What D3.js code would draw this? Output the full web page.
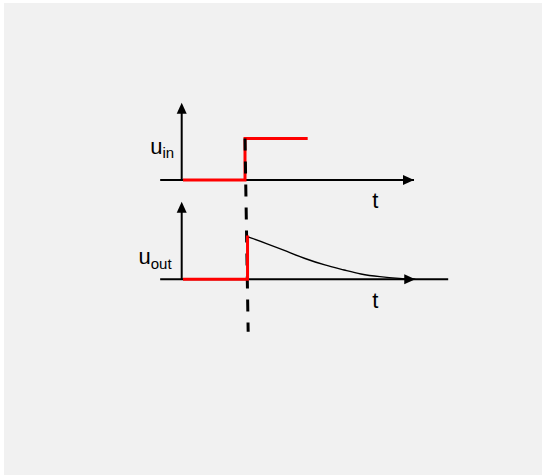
<!DOCTYPE html>
<html lang="en">
    <head>
        <meta charset="utf-8">
        <title>Step response</title>
        <script type="text/javascript" src="https://d3js.org/d3.v7.min.js"></script>
        <style>
            body { margin: 0; background: white; }
            #chart text {
                font-family: "Liberation Sans", Arial, sans-serif;
                fill: black;
            }
        </style>
    </head>
    <body>
        <svg id="chart"></svg>
    </body>
    <script>
        // input step (upper panel)
        let inT = [0.02, 1.0, 1.0, 1.99];
        let inV = [0, 0, 1, 1];

        // output: red part up to the jump
        let outT = [0.02, 1.04, 1.04];
        let outV = [0, 0, 1.05];

        // output: decay after the jump
        let decayT = [1.06, 1.32, 1.63, 1.95, 2.26, 2.58, 2.82, 3.13, 3.45, 3.69];
        let decayV = [1.01, 0.87, 0.69, 0.49, 0.34, 0.22, 0.12, 0.06, 0.02, 0];

        // axis extents
        let axisStart = -0.34;
        let inAxisEnd = 3.67;
        let outArrowEnd = 3.69;
        let outLineEnd = 4.21;
        let yArrowTop = 1.86;

        // dashed marker at the switching moment
        let markT = [1.0, 1.05];
        let markV = [1, -1.257];

        let labels = ["u", "in", "u", "out", "t"];

        let width = 542, height = 475;
        let svg = d3.select("#chart").attr("width", width).attr("height", height);

        svg.append("rect")
            .attr("x", 4).attr("y", 3)
            .attr("width", width - 4).attr("height", height - 3)
            .attr("fill", "#f1f1f1");

        let x = d3.scaleLinear().domain([0, 4]).range([181.7, 434.9]);
        let yIn = d3.scaleLinear().domain([0, 1]).range([180, 138.5]);
        let yOut = d3.scaleLinear().domain([0, 1]).range([279.3, 237.6]);

        let arrowLen = 11, arrowHalf = 5;

        function drawAxes(y, arrowEnd, lineEnd) {
            let g = svg.append("g");
            let x0 = x(0), y0 = y(0);
            let tipX = x(arrowEnd), tipY = y(yArrowTop);
            // horizontal
            g.append("line")
                .attr("x1", x(axisStart)).attr("y1", y0)
                .attr("x2", Math.max(x(lineEnd), tipX - arrowLen + 1)).attr("y2", y0)
                .attr("stroke", "black").attr("stroke-width", 2);
            g.append("path")
                .attr("d", `M${tipX},${y0}L${tipX - arrowLen},${y0 - arrowHalf}L${tipX - arrowLen},${y0 + arrowHalf}Z`)
                .attr("fill", "black");
            // vertical
            g.append("line")
                .attr("x1", x0).attr("y1", y0)
                .attr("x2", x0).attr("y2", tipY + arrowLen - 1)
                .attr("stroke", "black").attr("stroke-width", 2);
            g.append("path")
                .attr("d", `M${x0},${tipY}L${x0 - arrowHalf},${tipY + arrowLen}L${x0 + arrowHalf},${tipY + arrowLen}Z`)
                .attr("fill", "black");
        }

        drawAxes(yIn, inAxisEnd, inAxisEnd);
        drawAxes(yOut, outArrowEnd, outLineEnd);

        // input step in red
        let inLine = d3.line().x((d, i) => x(inT[i])).y(d => yIn(d));
        svg.append("path")
            .attr("d", inLine(inV))
            .attr("fill", "none")
            .attr("stroke", "red")
            .attr("stroke-width", 3);

        // dashed marker
        svg.append("line")
            .attr("x1", x(markT[0])).attr("y1", yIn(markV[0]))
            .attr("x2", x(markT[1])).attr("y2", yOut(markV[1]))
            .attr("stroke", "black")
            .attr("stroke-width", 3)
            .attr("stroke-dasharray", "12,11");

        // output
        let outLine = d3.line().x((d, i) => x(outT[i])).y(d => yOut(d));
        svg.append("path")
            .attr("d", outLine(outV))
            .attr("fill", "none")
            .attr("stroke", "red")
            .attr("stroke-width", 3);

        let decayLine = d3.line()
            .x((d, i) => x(decayT[i]))
            .y(d => yOut(d))
            .curve(d3.curveBasis);
        svg.append("path")
            .attr("d", decayLine(decayV))
            .attr("fill", "none")
            .attr("stroke", "black")
            .attr("stroke-width", 1.4);

        // labels
        let tIn = svg.append("text").attr("x", x(0) - 31.5).attr("y", yIn(0) - 26)
            .style("font-size", "22px");
        tIn.append("tspan").text(labels[0]);
        tIn.append("tspan").attr("dy", 4).style("font-size", "15px").text(labels[1]);

        let tOut = svg.append("text").attr("x", x(0) - 43.2).attr("y", yOut(0) - 15)
            .style("font-size", "22px");
        tOut.append("tspan").text(labels[2]);
        tOut.append("tspan").attr("dy", 4.7).style("font-size", "15px").text(labels[3]);

        svg.append("text").attr("x", 372.3).attr("y", yIn(0) + 27.7)
            .style("font-size", "22px").text(labels[4]);
        svg.append("text").attr("x", 372.3).attr("y", yOut(0) + 28.4)
            .style("font-size", "22px").text(labels[4]);
    </script>
</html>
